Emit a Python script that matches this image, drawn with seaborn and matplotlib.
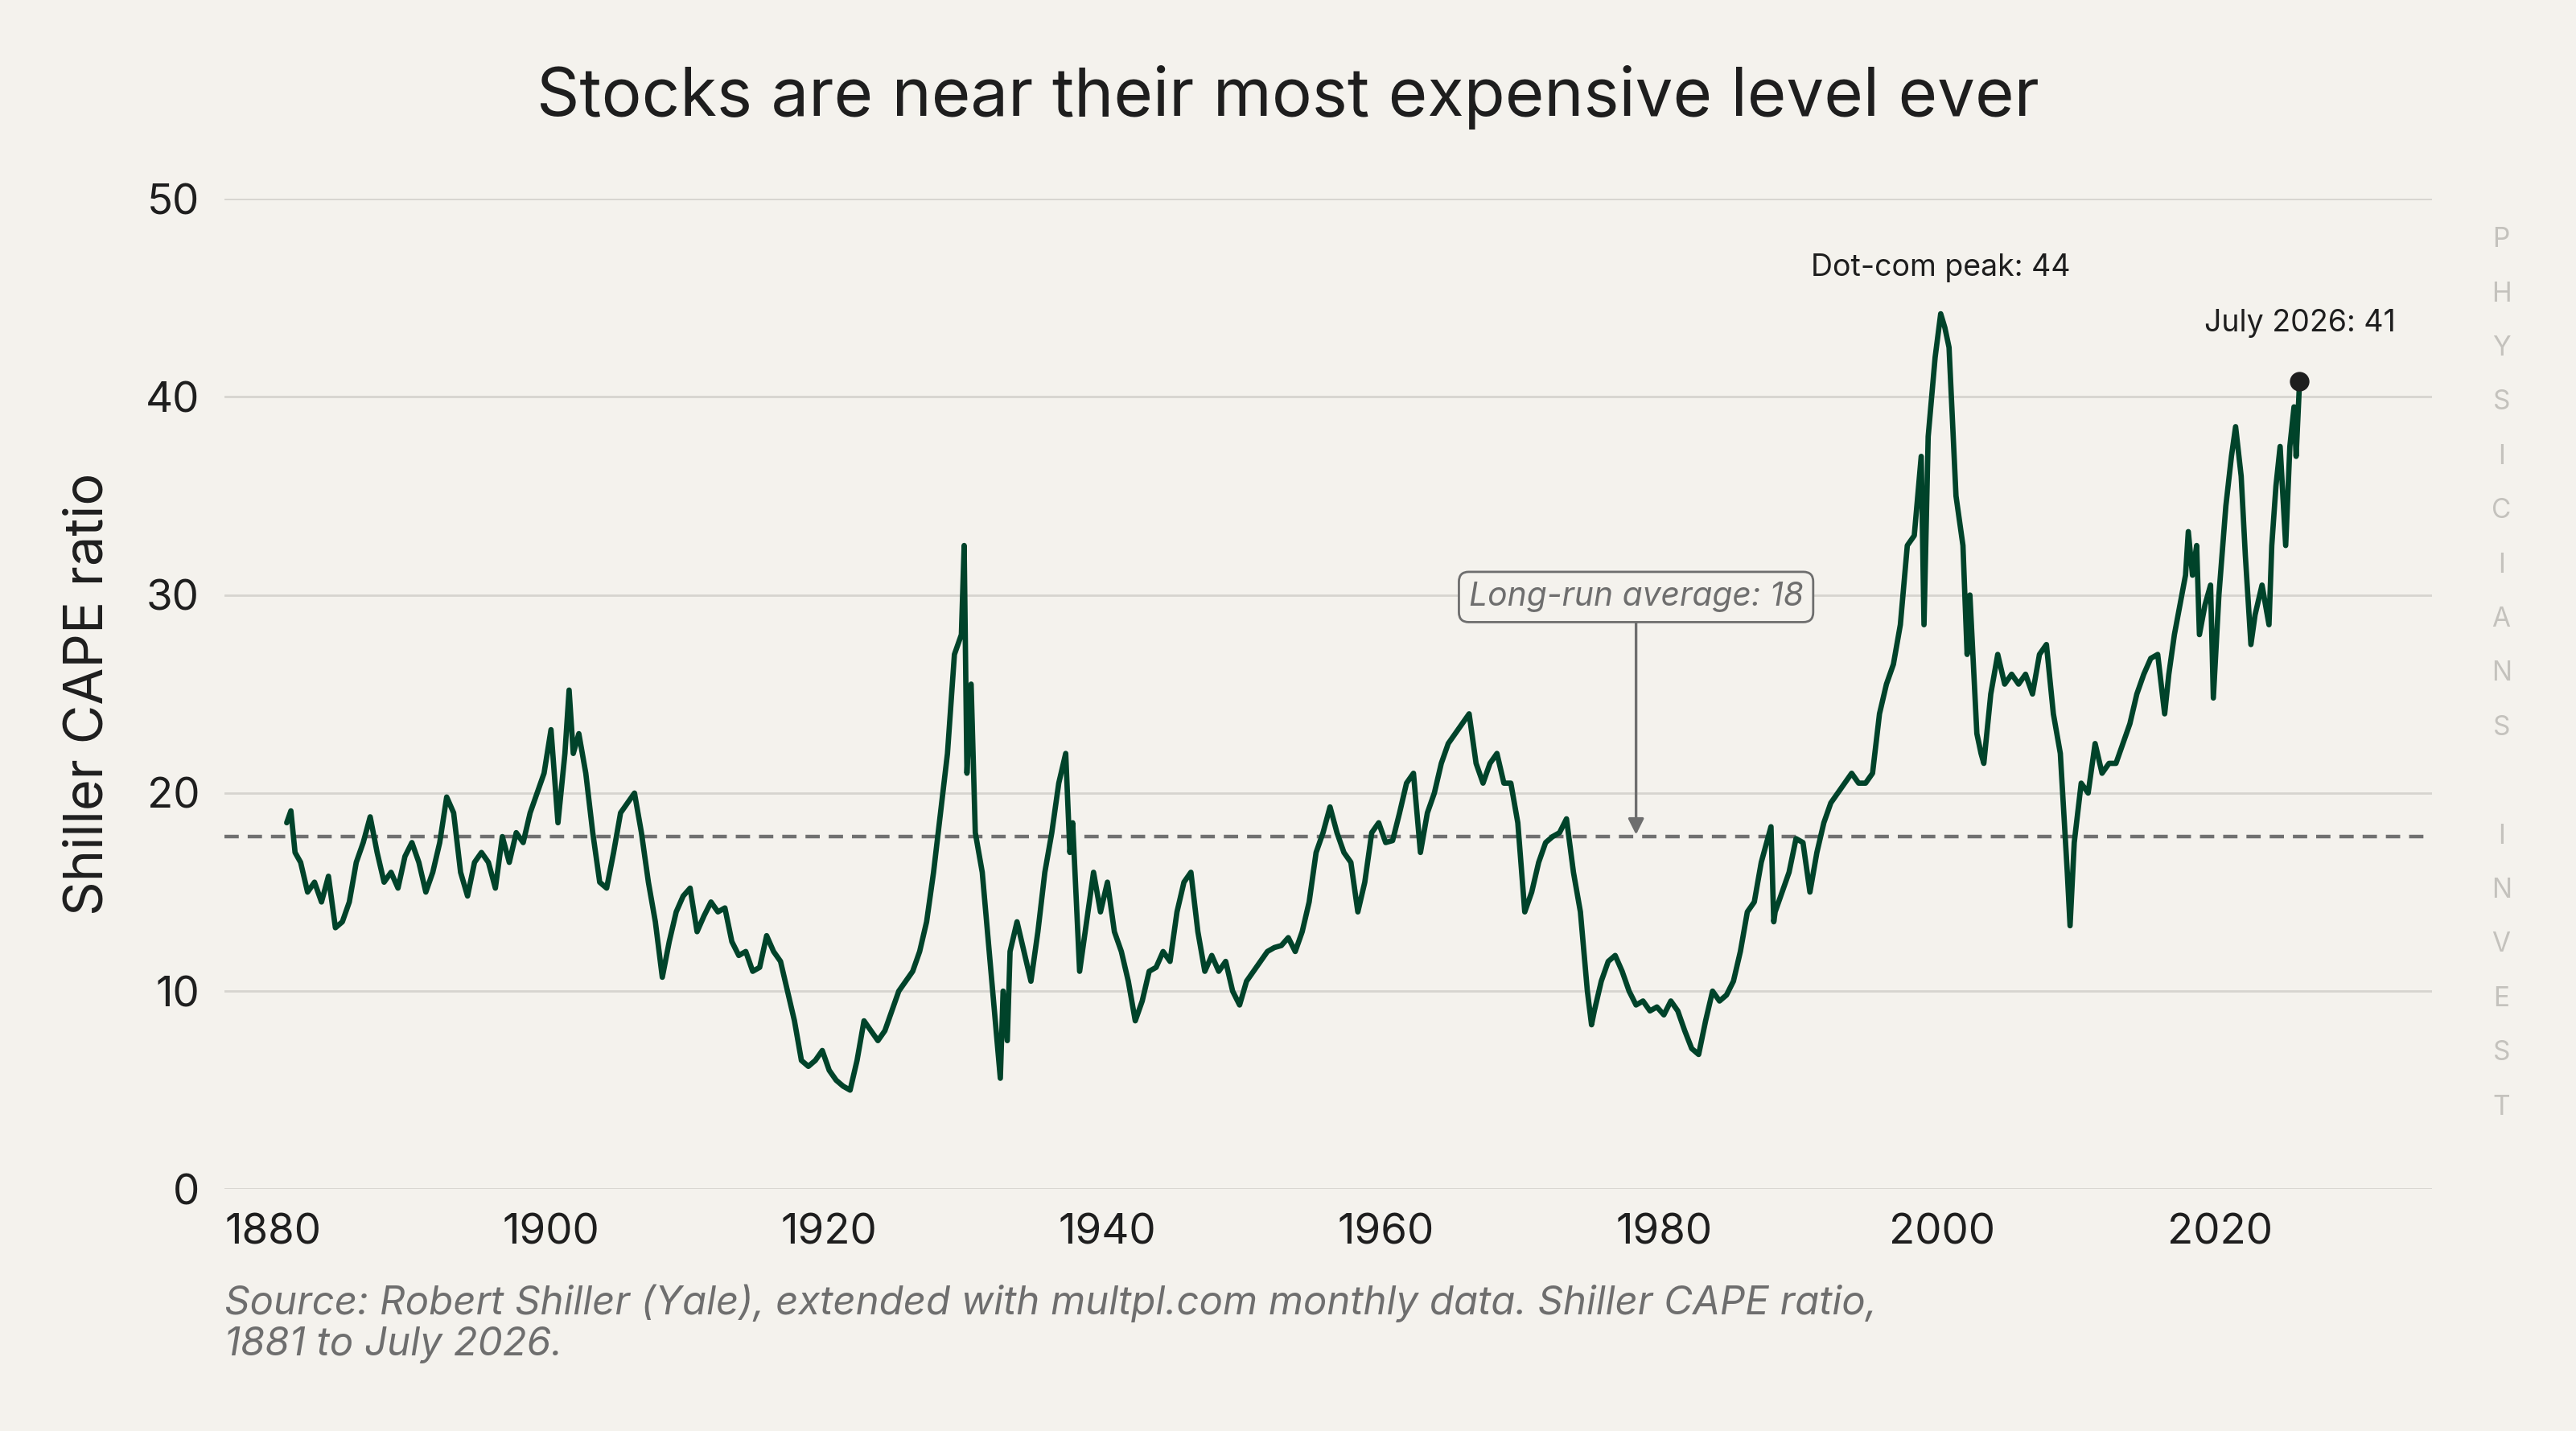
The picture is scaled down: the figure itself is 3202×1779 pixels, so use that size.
import numpy as np
import pandas as pd
import matplotlib.pyplot as plt
import seaborn as sns

years = [1881.0, 1881.3, 1881.6, 1882, 1882.5, 1883, 1883.5, 1884, 1884.5, 1885, 1885.5, 1886, 1886.5, 1887, 1887.5,
         1888, 1888.5, 1889, 1889.5, 1890, 1890.5, 1891, 1891.5, 1892, 1892.5, 1893, 1893.5, 1894, 1894.5, 1895,
         1895.5, 1896, 1896.5, 1897, 1897.5, 1898, 1898.5, 1899, 1899.5, 1900, 1900.5, 1901, 1901.3, 1901.6, 1902,
         1902.5, 1903, 1903.5, 1904, 1904.5, 1905, 1905.5, 1906, 1906.5, 1907, 1907.5, 1908, 1908.5, 1909, 1909.5,
         1910, 1910.5, 1911, 1911.5, 1912, 1912.5, 1913, 1913.5, 1914, 1914.5, 1915, 1915.5, 1916, 1916.5, 1917,
         1917.5, 1918, 1918.5, 1919, 1919.5, 1920, 1920.5, 1921, 1921.5, 1922, 1922.5, 1923, 1923.5, 1924, 1924.5,
         1925, 1925.5, 1926, 1926.5, 1927, 1927.5, 1928, 1928.5, 1929, 1929.5, 1929.7, 1929.9, 1930.2, 1930.5, 1931,
         1931.5, 1932, 1932.3, 1932.5, 1932.8, 1933, 1933.5, 1934, 1934.5, 1935, 1935.5, 1936, 1936.5, 1937, 1937.3,
         1937.5, 1938, 1938.5, 1939, 1939.5, 1940, 1940.5, 1941, 1941.5, 1942, 1942.5, 1943, 1943.5, 1944, 1944.5,
         1945, 1945.5, 1946, 1946.5, 1947, 1947.5, 1948, 1948.5, 1949, 1949.5, 1950, 1950.5, 1951, 1951.5, 1952,
         1952.5, 1953, 1953.5, 1954, 1954.5, 1955, 1955.5, 1956, 1956.5, 1957, 1957.5, 1958, 1958.5, 1959, 1959.5,
         1960, 1960.5, 1961, 1961.5, 1962, 1962.5, 1963, 1963.5, 1964, 1964.5, 1965, 1965.5, 1966, 1966.5, 1967,
         1967.5, 1968, 1968.5, 1969, 1969.5, 1970, 1970.5, 1971, 1971.5, 1972, 1972.5, 1973, 1973.5, 1974, 1974.5,
         1974.8, 1975, 1975.5, 1976, 1976.5, 1977, 1977.5, 1978, 1978.5, 1979, 1979.5, 1980, 1980.5, 1981, 1981.5,
         1982, 1982.5, 1983, 1983.5, 1984, 1984.5, 1985, 1985.5, 1986, 1986.5, 1987, 1987.7, 1987.9, 1988, 1988.5,
         1989, 1989.5, 1990, 1990.5, 1991, 1991.5, 1992, 1992.5, 1993, 1993.5, 1994, 1994.5, 1995, 1995.5, 1996,
         1996.5, 1997, 1997.5, 1998, 1998.5, 1998.7, 1999, 1999.5, 1999.9, 2000.2, 2000.5, 2001, 2001.5, 2001.8,
         2002, 2002.5, 2002.8, 2003, 2003.5, 2004, 2004.5, 2005, 2005.5, 2006, 2006.5, 2007, 2007.5, 2008, 2008.5,
         2009, 2009.2, 2009.5, 2010, 2010.5, 2011, 2011.5, 2012, 2012.5, 2013, 2013.5, 2014, 2014.5, 2015, 2015.5,
         2016, 2016.3, 2016.7, 2017.1, 2017.5, 2017.7, 2018.0, 2018.3, 2018.5, 2018.9, 2019.3, 2019.5, 2019.9, 2020.4, 2020.8,
         2021.1, 2021.5, 2021.8, 2022.2, 2022.5, 2023.0, 2023.5, 2023.7, 2024.0, 2024.3, 2024.7, 2025.0, 2025.3, 2025.45,
         2025.7]
cape = [18.5, 19.1, 17, 16.5, 15, 15.5, 14.5, 15.8, 13.2, 13.5, 14.5, 16.5, 17.5, 18.8, 17,
        15.5, 16, 15.2, 16.8, 17.5, 16.5, 15, 16, 17.5, 19.8, 19, 16, 14.8, 16.5, 17,
        16.5, 15.2, 17.8, 16.5, 18, 17.5, 19, 20, 21, 23.2, 18.5, 22, 25.2, 22, 23,
        21, 18, 15.5, 15.2, 17, 19, 19.5, 20, 18, 15.5, 13.5, 10.7, 12.5, 14, 14.8,
        15.2, 13, 13.8, 14.5, 14, 14.2, 12.5, 11.8, 12, 11, 11.2, 12.8, 12, 11.5, 10,
        8.5, 6.5, 6.2, 6.5, 7, 6, 5.5, 5.2, 5, 6.5, 8.5, 8, 7.5, 8, 9,
        10, 10.5, 11, 12, 13.5, 16, 19, 22, 27, 28, 32.5, 21, 25.5, 18, 16,
        12, 8, 5.6, 10, 7.5, 12, 13.5, 12, 10.5, 13, 16, 18, 20.5, 22, 17,
        18.5, 11, 13.5, 16, 14, 15.5, 13, 12, 10.5, 8.5, 9.5, 11, 11.2, 12, 11.5,
        14, 15.5, 16, 13, 11, 11.8, 11, 11.5, 10, 9.3, 10.5, 11, 11.5, 12, 12.2,
        12.3, 12.7, 12, 13, 14.5, 17, 18, 19.3, 18, 17, 16.5, 14, 15.5, 18, 18.5,
        17.5, 17.6, 19, 20.5, 21, 17, 19, 20, 21.5, 22.5, 23, 23.5, 24, 21.5, 20.5,
        21.5, 22, 20.5, 20.5, 18.5, 14, 15, 16.5, 17.5, 17.8, 18, 18.7, 16, 14, 10,
        8.3, 9, 10.5, 11.5, 11.8, 11, 10, 9.3, 9.5, 9, 9.2, 8.8, 9.5, 9, 8,
        7.1, 6.8, 8.5, 10, 9.5, 9.8, 10.5, 12, 14, 14.5, 16.5, 18.3, 13.5, 14, 15,
        16, 17.7, 17.5, 15, 17, 18.5, 19.5, 20, 20.5, 21, 20.5, 20.5, 21, 24, 25.5,
        26.5, 28.5, 32.5, 33, 37, 28.5, 38, 42, 44.2, 43.5, 42.5, 35, 32.5, 27,
        30, 23, 22, 21.5, 25, 27, 25.5, 26, 25.5, 26, 25, 27, 27.5, 24, 22,
        16, 13.3, 17.5, 20.5, 20, 22.5, 21, 21.5, 21.5, 22.5, 23.5, 25, 26, 26.8, 27,
        24, 26, 28, 29.5, 31, 33.2, 31, 32.5, 28, 29.5, 30.5, 24.8, 30, 34.5, 37,
        38.5, 36, 32, 27.5, 29, 30.5, 28.5, 32.5, 35.5, 37.5, 32.5, 37.5, 39.5, 37,
        40.8]
long_run_avg = 17.8
ytick_vals = [0, 10, 20, 30, 40, 50]
xtick_vals = [1880, 1900, 1920, 1940, 1960, 1980, 2000, 2020]

df = pd.DataFrame({"year": years, "cape": cape})

bg = "#f4f2ed"
green = "#00432a"
sns.set_theme(style="white")
plt.rcParams['font.family'] = ['Inter', 'DejaVu Sans']

fig = plt.figure(figsize=(16.01, 8.895), dpi=200, facecolor=bg)
ax = fig.add_axes([0.087, 0.169, 0.857, 0.692])
ax.set_facecolor(bg)

for v in ytick_vals:
    ax.axhline(v, color="#d6d4cf", lw=1, zorder=0)
ax.axhline(long_run_avg, color="#707070", lw=1.6, ls=(0, (4, 2.5)), zorder=1)
sns.lineplot(data=df, x="year", y="cape", color=green, lw=2.4, ax=ax, zorder=3)
ax.scatter([years[-1]], [cape[-1]], s=60, color="#1e1e1e", zorder=4)

ax.set_xlim(1876.5, 2035.2)
ax.set_ylim(0, 50)
ax.set_yticks(ytick_vals)
ax.set_xticks(xtick_vals)
ax.tick_params(axis="both", labelsize=19, colors="#1e1e1e", length=5, width=0.8, pad=6)
ax.tick_params(axis="both", color="#999999")
for s in ax.spines.values():
    s.set_visible(False)
ax.set_xlabel("")
ax.set_ylabel("Shiller CAPE ratio", fontsize=24, color="#1e1e1e", labelpad=14)

ax.annotate("Long-run average: 18", xy=(1978, long_run_avg + 0.1), xytext=(1978, 29.9),
            ha="center", va="center", fontsize=14.7, style="italic", color="#6e6e6e",
            bbox=dict(boxstyle="round,pad=0.3,rounding_size=0.3", fc=bg, ec="#6e6e6e", lw=1),
            arrowprops=dict(arrowstyle="-|>", color="#6e6e6e", lw=1.2, shrinkA=0, shrinkB=0))
ax.text(1999.9, 46.5, "Dot-com peak: 44", ha="center", va="center", fontsize=13.5, color="#1e1e1e")
ax.text(2025.7, 43.7, "July 2026: 41", ha="center", va="center", fontsize=13.5, color="#1e1e1e")

fig.text(0.5, 0.932, "Stocks are near their most expensive level ever", ha="center", va="center",
         fontsize=30, color="#1e1e1e")
fig.text(0.087, 0.075, "Source: Robert Shiller (Yale), extended with multpl.com monthly data. Shiller CAPE ratio,\n1881 to July 2026.",
         ha="left", va="center", fontsize=17.7, style="italic", color="#6e6e6e", linespacing=1.15)

letters = list("PHYSICIANS") + [""] + list("INVEST")
for i, ch in enumerate(letters):
    fig.text(0.971, 1 - (146 + 33 * i) / 871, ch, ha="center", va="center", fontsize=12, color="#c4c2bd")

fig.savefig("out.png", dpi=200, facecolor=bg)
